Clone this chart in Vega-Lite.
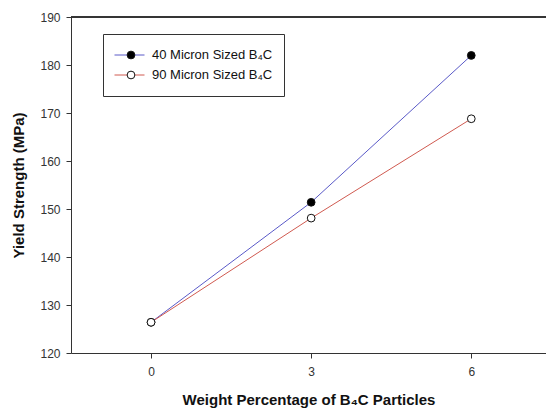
{
  "$schema": "https://vega.github.io/schema/vega-lite/v6.json",
  "autosize": {"type": "none"},
  "padding": {"left": 71, "top": 17, "right": 0, "bottom": 58},
  "width": 475,
  "height": 336,
  "background": "white",
  "config": {
    "view": {"stroke": null},
    "font": "Liberation Sans",
    "axis": {
      "labelFont": "Liberation Sans",
      "labelFontSize": 12,
      "labelColor": "#333333",
      "titleFont": "Liberation Sans",
      "titleFontSize": 15,
      "titleFontWeight": "bold",
      "titleColor": "#111111",
      "domainColor": "#333333",
      "tickColor": "#333333",
      "tickSize": 5,
      "grid": false
    }
  },
  "data": {
    "values": [
      {"series": "40 Micron Sized B₄C", "wt": 0, "ys": 126.4},
      {"series": "40 Micron Sized B₄C", "wt": 3, "ys": 151.4},
      {"series": "40 Micron Sized B₄C", "wt": 6, "ys": 182.0},
      {"series": "90 Micron Sized B₄C", "wt": 0, "ys": 126.4},
      {"series": "90 Micron Sized B₄C", "wt": 3, "ys": 148.1},
      {"series": "90 Micron Sized B₄C", "wt": 6, "ys": 168.8}
    ]
  },
  "encoding": {
    "x": {
      "field": "wt", "type": "quantitative",
      "scale": {"domain": [-1.5, 7.4], "nice": false, "zero": false},
      "axis": {"values": [0, 3, 6], "labelPadding": 8, "titlePadding": 15, "title": "Weight Percentage of B₄C Particles"}
    },
    "y": {
      "field": "ys", "type": "quantitative",
      "scale": {"domain": [120, 190], "nice": false, "zero": false},
      "axis": {"values": [120, 130, 140, 150, 160, 170, 180, 190], "labelPadding": 6, "titlePadding": 13, "title": "Yield Strength (MPa)"}
    }
  },
  "layer": [
    {
      "mark": {"type": "rule", "color": "#333333", "strokeWidth": 1},
      "encoding": {"y": {"datum": 190}, "x": null}
    },
    {
      "mark": {"type": "line", "strokeWidth": 1},
      "encoding": {
        "color": {
          "field": "series", "type": "nominal",
          "scale": {"range": ["#5a5ac8", "#d05a50"]},
          "legend": {
            "orient": "none", "legendX": 32, "legendY": 17,
            "title": null,
            "symbolType": "stroke", "symbolSize": 900, "symbolStrokeWidth": 1,
            "clipHeight": 20, "rowPadding": 0,
            "labelFontSize": 13, "labelColor": "#111111", "labelOffset": 7,
            "padding": 11, "strokeColor": "#333333", "fillColor": "white"
          }
        }
      }
    },
    {
      "mark": {"type": "point", "filled": true, "stroke": "#111111", "strokeWidth": 1, "size": 60, "opacity": 1},
      "encoding": {
        "fill": {
          "field": "series", "type": "nominal",
          "scale": {"domain": ["40 Micron Sized B₄C", "90 Micron Sized B₄C"], "range": ["#000000", "#ffffff"]},
          "legend": {
            "orient": "none", "legendX": 44, "legendY": 17,
            "title": null,
            "symbolType": "circle", "symbolSize": 60, "symbolStrokeColor": "#111111", "symbolStrokeWidth": 1,
            "clipHeight": 20, "rowPadding": 0,
            "labelExpr": "''",
            "padding": 11
          }
        }
      }
    }
  ]
}
